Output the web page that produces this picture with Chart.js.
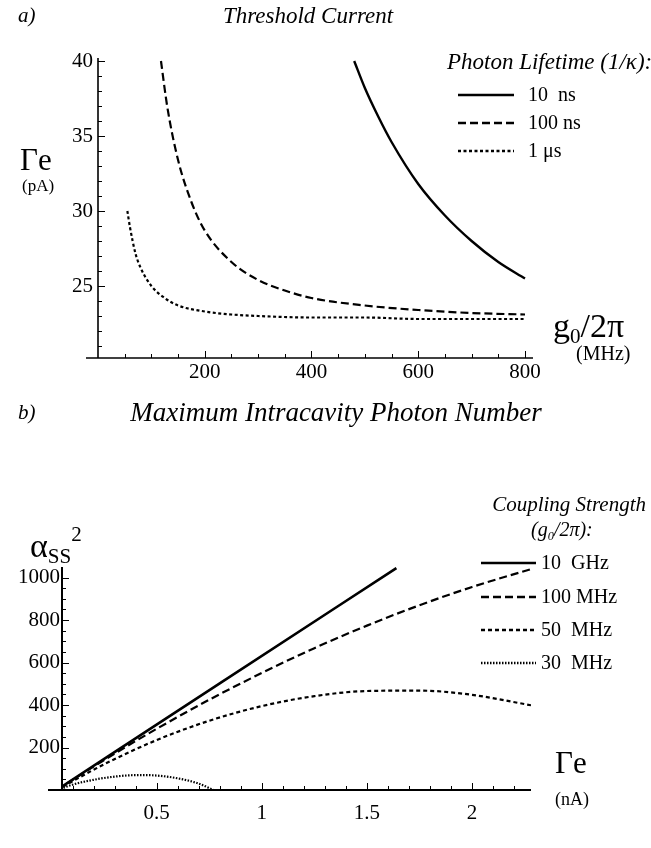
<!DOCTYPE html>
<html><head><meta charset="utf-8">
<script src="https://cdn.jsdelivr.net/npm/chart.js@4.4.0/dist/chart.umd.min.js"></script>
<style>
body{margin:0;width:651px;height:848px;background:#fff;position:relative;overflow:hidden;font-family:"Liberation Serif","Times New Roman",serif;color:#000}
.t{position:absolute;white-space:nowrap;line-height:1}
.i{font-style:italic}
.c{transform:translateX(-50%)}
canvas{position:absolute;left:0}
sub{font-size:62%;vertical-align:-0.3em;line-height:0}
sup{font-size:62%;vertical-align:0.75em;line-height:0}
</style></head><body>
<canvas id="c1" style="top:0;width:651px;height:400px"></canvas>
<canvas id="c2" style="top:400px;width:651px;height:448px"></canvas>

<div class="t i" style="left:18px;top:5px;font-size:21px">a)</div>
<div class="t i c" style="left:308px;top:4px;font-size:23px">Threshold Current</div>
<div class="t" style="left:20px;top:144px;font-size:31px">Γe</div>
<div class="t" style="left:22px;top:177px;font-size:17px">(pA)</div>
<div class="t" style="left:553px;top:309px;font-size:34px">g<sub>0</sub>/2π</div>
<div class="t" style="left:576px;top:343px;font-size:20px">(MHz)</div>
<div class="t i" style="left:447px;top:50px;font-size:23px">Photon Lifetime (1/κ):</div>
<div id="leg1"></div>

<div class="t i" style="left:18px;top:402px;font-size:21px">b)</div>
<div class="t i c" style="left:336px;top:399px;font-size:27px">Maximum Intracavity Photon Number</div>
<div class="t" style="left:30px;top:529px;font-size:34px">α<sub>SS</sub><sup>2</sup></div>
<div class="t" style="left:555px;top:747px;font-size:31px">Γe</div>
<div class="t" style="left:555px;top:790px;font-size:18px">(nA)</div>
<div class="t i" style="right:5px;top:494px;font-size:21px">Coupling Strength</div>
<div class="t i" style="left:531px;top:519px;font-size:20px">(g<sub>0</sub>/2π):</div>
<div id="leg2"></div>

<script>
// ---------- Panel a: threshold current vs g0/2pi ----------
const lifetimeLabels = ['10\u00a0 ns', '100 ns', '1 \u03bcs'];
const g10ns      = [480, 500, 525, 550, 600, 650, 700, 750, 800];
const gamma10ns  = [40.0, 38.2, 36.3, 34.6, 31.8, 29.7, 28.0, 26.6, 25.5];
const g100ns     = [118, 130, 150, 175, 200, 250, 300, 350, 400, 500, 600, 700, 800];
const gamma100ns = [40.0, 36.9, 33.4, 30.6, 28.7, 26.6, 25.4, 24.7, 24.2, 23.7, 23.4, 23.2, 23.1];
const g1us       = [55, 60, 70, 80, 100, 125, 150, 200, 250, 300, 400, 500, 600, 800];
const gamma1us   = [30.0, 28.9, 27.2, 26.2, 25.0, 24.2, 23.7, 23.3, 23.1, 23.0, 22.9, 22.9, 22.8, 22.8];
const aXTicks = [200, 400, 600, 800];
const aXMinor = [50,100,150,250,300,350,450,500,550,650,700,750];
const aYTicks = [25, 30, 35, 40];
const aYMinor = [21,22,23,24,26,27,28,29,31,32,33,34,36,37,38,39];

// ---------- Panel b: max intracavity photon number vs Gamma_e ----------
const couplingLabels = ['10\u00a0 GHz', '100 MHz', '50\u00a0 MHz', '30\u00a0 MHz'];
const current10GHz = [0.025, 0.8, 1.64];
const photons10GHz = [0, 502, 1045];
const currentNA    = [0.025, 0.25, 0.5, 0.75, 1.0, 1.25, 1.5, 1.75, 2.0, 2.28];
const photons100MHz = [0, 141, 288, 425, 551, 668, 774, 870, 956, 1040];
const photons50MHz  = [0, 121, 235, 326, 395, 442, 466, 468, 448, 399];
const current30MHz = [0.03, 0.1, 0.2, 0.3, 0.4, 0.45, 0.5, 0.6, 0.7, 0.77];
const photons30MHz = [0, 25, 48, 63, 70, 70, 68, 55, 30, 0];
const bXTicks = [0.5, 1, 1.5, 2];
const bXTickLabels = ['0.5', '1', '1.5', '2'];
const bXMinor = [0.1,0.2,0.3,0.4,0.6,0.7,0.8,0.9,1.1,1.2,1.3,1.4,1.6,1.7,1.8,1.9,2.1,2.2];
const bYTicks = [200, 400, 600, 800, 1000];
const bYMinor = [50,100,150,250,300,350,450,500,550,650,700,750,850,900,950];

const dashA = [[], [8, 4], [3, 2.5]];
const dashB = [[], [8, 4], [4, 3], [1.5, 1.5]];

const pts = (xs, ys) => xs.map((x, i) => ({x, y: ys[i]}));
const FONT = {family: "'Liberation Serif','Times New Roman',serif", size: 21};

const axesPlugin = {
  id: 'axes',
  afterDraw(chart, args, o) {
    const {ctx} = chart, xs = chart.scales.x, ys = chart.scales.y;
    const y0 = ys.bottom, x0 = xs.left;
    ctx.save();
    ctx.strokeStyle = '#000';
    ctx.lineWidth = o.lw;
    ctx.beginPath(); ctx.moveTo(x0 - o.ext, y0); ctx.lineTo(xs.right, y0); ctx.stroke();
    ctx.beginPath(); ctx.moveTo(x0, ys.top); ctx.lineTo(x0, y0); ctx.stroke();
    ctx.lineWidth = 1;
    const tick = (vals, len, isX) => vals.forEach(v => {
      ctx.beginPath();
      if (isX) { const p = Math.round(xs.getPixelForValue(v)) + 0.5; ctx.moveTo(p, y0); ctx.lineTo(p, y0 - len); }
      else { const p = Math.round(ys.getPixelForValue(v)) + 0.5; ctx.moveTo(x0, p); ctx.lineTo(x0 + len, p); }
      ctx.stroke();
    });
    tick(o.xMajor, 7, true); tick(o.xMinor, 4, true);
    tick(o.yMajor, 7, false); tick(o.yMinor, 4, false);
    ctx.restore();
  }
};

function makeChart(id, datasets, cfg) {
  return new Chart(document.getElementById(id), {
    type: 'scatter',
    data: {datasets},
    plugins: [axesPlugin],
    options: {
      responsive: false, animation: false, devicePixelRatio: 1,
      layout: {padding: cfg.padding},
      elements: {point: {radius: 0}, line: {cubicInterpolationMode: 'monotone', borderCapStyle: 'butt'}},
      plugins: {legend: {display: false}, tooltip: {enabled: false},
        axes: {lw: cfg.lw, ext: cfg.ext, xMajor: cfg.xTicks, xMinor: cfg.xMinor, yMajor: cfg.yTicks, yMinor: cfg.yMinor}},
      scales: {
        x: {type: 'linear', min: cfg.xMin, max: cfg.xMax,
            grid: {display: false, drawTicks: false, tickLength: 0}, border: {display: false},
            afterBuildTicks: s => { s.ticks = cfg.xTicks.map(v => ({value: v})); },
            afterFit: s => { s.height = cfg.xH; },
            ticks: {font: FONT, color: '#000', padding: cfg.xPad, maxRotation: 0, autoSkip: false,
                    callback: (v) => cfg.xLabels ? cfg.xLabels[cfg.xTicks.indexOf(v)] : String(v)}},
        y: {type: 'linear', min: cfg.yMin, max: cfg.yMax,
            grid: {display: false, drawTicks: false, tickLength: 0}, border: {display: false},
            afterBuildTicks: s => { s.ticks = cfg.yTicks.map(v => ({value: v})); },
            afterFit: s => { s.width = cfg.yW; },
            ticks: {font: FONT, color: '#000', padding: cfg.yPad, autoSkip: false, callback: v => String(v)}}
      }
    }
  });
}

function line(data, dash, w) {
  return {data, showLine: true, borderColor: '#000', backgroundColor: '#000', borderWidth: w, borderDash: dash, pointRadius: 0, fill: false};
}

const c1 = document.getElementById('c1'); c1.width = 651; c1.height = 400;
const c2 = document.getElementById('c2'); c2.width = 651; c2.height = 448;

makeChart('c1', [
  line(pts(g10ns, gamma10ns), dashA[0], 2.4),
  line(pts(g100ns, gamma100ns), dashA[1], 2.2),
  line(pts(g1us, gamma1us), dashA[2], 2.2)
], {padding: {left: 0, right: 118, top: 58, bottom: 0}, xMin: 0, xMax: 815, yMin: 20.2, yMax: 40.2,
    xH: 42, yW: 98, xPad: 2, yPad: 5, lw: 1.6, ext: 12,
    xTicks: aXTicks, xMinor: aXMinor, yTicks: aYTicks, yMinor: aYMinor});

makeChart('c2', [
  line(pts(current10GHz, photons10GHz), dashB[0], 2.6),
  line(pts(currentNA, photons100MHz), dashB[1], 2.2),
  line(pts(currentNA, photons50MHz), dashB[2], 2.2),
  line(pts(current30MHz, photons30MHz), dashB[3], 2.2)
], {padding: {left: 0, right: 120, top: 167, bottom: 18}, xMin: 0.05, xMax: 2.28, yMin: 0, yMax: 1050,
    xH: 40, yW: 62, xPad: 11, yPad: 2, lw: 2, ext: 14,
    xTicks: bXTicks, xLabels: bXTickLabels, xMinor: bXMinor, yTicks: bYTicks, yMinor: bYMinor});

// HTML legends built from label arrays
function legend(el, labels, dashes, x0, w, tx, ys, fs) {
  const box = document.getElementById(el);
  labels.forEach((lab, i) => {
    const svg = `<svg class="t" style="left:${x0}px;top:${ys[i]-3}px" width="${w}" height="6"><line x1="0" y1="3" x2="${w}" y2="3" stroke="#000" stroke-width="2.4" stroke-dasharray="${dashes[i].join(' ') || 'none'}"/></svg>`;
    box.insertAdjacentHTML('beforeend', svg + `<div class="t" style="left:${tx}px;top:${ys[i]-fs/2-1}px;font-size:${fs}px">${lab}</div>`);
  });
}
legend('leg1', lifetimeLabels, dashA, 458, 56, 528, [95, 123, 151], 20);
legend('leg2', couplingLabels, dashB, 481, 55, 541, [563, 597, 630, 663], 20);
</script>
</body></html>
